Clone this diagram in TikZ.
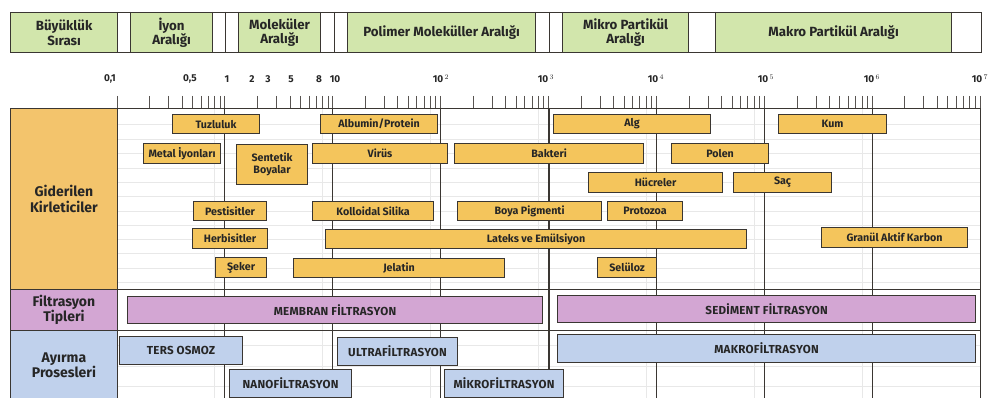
\documentclass[tikz,border=0pt]{standalone}
\usepackage{fontspec}
\setmainfont{Fira Sans}
\definecolor{hdrgreen}{HTML}{D2E6AC}
\definecolor{orng}{HTML}{F4C55C}
\definecolor{orngcat}{HTML}{F3C46C}
\definecolor{purp}{HTML}{D3A6D3}
\definecolor{blu}{HTML}{C0D1EC}
\definecolor{bdr}{HTML}{3A3632}
\definecolor{txt}{HTML}{262626}
\tikzset{
  obox/.style={draw=bdr, line width=1.1pt, fill=orng, text=txt, inner sep=0pt, font=\fontsize{10.7}{11.5}\selectfont\bfseries, align=center},
  pbox/.style={obox, fill=purp, font=\fontsize{11.6}{12.5}\selectfont\bfseries\addfontfeatures{LetterSpace=2}},
  bbox/.style={obox, fill=blu, font=\fontsize{11.6}{12.5}\selectfont\bfseries\addfontfeatures{LetterSpace=2}},
  gbox/.style={draw=bdr, line width=1.2pt, fill=hdrgreen, text=txt, inner sep=0pt, font=\fontsize{13.3}{14.5}\selectfont\bfseries, align=center},
  catbox/.style={draw=bdr, line width=0.9pt, text=txt, inner sep=0pt, font=\fontsize{14}{15.5}\selectfont\bfseries, align=center},
  sclab/.style={text=txt, inner sep=0pt, font=\fontsize{10}{11}\selectfont\bfseries},
  decline/.style={draw=bdr, line width=0.9pt},
  faint/.style={draw=black!9, line width=0.5pt},
  tick/.style={draw=bdr!85, line width=0.7pt}
}
\newcommand{\bx}[7]{\node[#2, minimum width={(#5-#3)*1pt}, minimum height={(#6-#4)*1pt}, anchor=north west] (#1) at (#3,#4) {#7};}
\begin{document}
\begin{tikzpicture}[x=1pt,y=-1pt]
\useasboundingbox (0,0) rectangle (990,398);
\fill[white] (0,0) rectangle (990,398);
% faint grid
\foreach \d in {0,...,6} \draw[faint] ({117+107.9*(\d+log10(8))},108) -- ({117+107.9*(\d+log10(8))},398);
\foreach \yy in {124,139,153,168,182,196,211,225,239,253,268,282,345,366,386} \draw[faint] (117,\yy) -- (981,\yy);
% decade lines
\foreach \d in {1,...,8} \draw[decline] ({117+107.9*\d},108) -- ({117+107.9*\d},398);
\draw[bdr, line width=1.6pt] (549,108) -- (549,398);
% row lines
\draw[decline] (117,108) -- (981,108);
\draw[decline] (117,289) -- (981,289);
\draw[decline] (117,330) -- (981,330);
% ticks
\foreach \d in {0,...,7} {
  \foreach \m in {2,...,9} \draw[tick] ({117+107.9*(\d+log10(\m))},96) -- ({117+107.9*(\d+log10(\m))},108);
}
\foreach \d in {0,...,8} \draw[tick, line width=1pt] ({117+107.9*\d},96) -- ({117+107.9*\d},108);
% header
\draw[bdr, line width=0.7pt] (10,12) rectangle (981,52);
\foreach \xx in {117,130,212,225,238,320,334,347,535,549,562,688,715,951} \draw[bdr, line width=0.7pt] (\xx,12) -- (\xx,52);
\bx{h1}{gbox}{10}{12}{117}{52}{Büyüklük\\Sırası}
\bx{h2}{gbox}{130}{12}{212}{52}{İyon\\Aralığı}
\bx{h3}{gbox}{238}{12}{320}{52}{Moleküler\\Aralığı}
\bx{h4}{gbox}{347}{12}{535}{52}{Polimer Moleküller Aralığı}
\bx{h5}{gbox}{562}{12}{688}{52}{Mikro Partikül\\Aralığı}
\bx{h6}{gbox}{715}{12}{951}{52}{Makro Partikül Aralığı}
% scale labels
\node[sclab, anchor=east] (s01) at (116,79) {0,1};
\node[sclab] (s05) at (190,79) {0,5};
\node[sclab] (s1) at (227,79) {1};
\node[sclab] (s2) at (252,79) {2};
\node[sclab] (s3) at (268,79) {3};
\node[sclab] (s5) at (291,79) {5};
\node[sclab] (s8) at (319,79) {8};
\node[sclab] (s10) at (335,79) {10};
\node[sclab] (s100) at (441,79) {10$^{\,2}$};
\node[sclab] (s1k) at (546,79) {10$^{\,3}$};
\node[sclab] (s10k) at (656,79) {10$^{\,4}$};
\node[sclab] (s100k) at (766,79) {10$^{\,5}$};
\node[sclab] (s1m) at (872,79) {10$^{\,6}$};
\node[sclab] (s10m) at (980,79) {10$^{\,7}$};
% categories
\bx{c1}{catbox, fill=orngcat}{10}{108}{117}{289}{Giderilen\\Kirleticiler}
\bx{c2}{catbox, fill=purp}{10}{289}{117}{330}{Filtrasyon\\Tipleri}
\bx{c3}{catbox, fill=blu}{10}{330}{117}{400}{Ayırma\\Prosesleri}
% contaminants
\bx{tuz}{obox}{172}{114}{259}{133}{Tuzluluk}
\bx{alb}{obox}{320}{114}{437}{133}{Albumin/Protein}
\bx{alg}{obox}{553}{114}{710}{133}{Alg}
\bx{kum}{obox}{778}{114}{886}{133}{Kum}
\bx{met}{obox}{143}{143}{220}{163}{Metal İyonları}
\bx{sen}{obox}{236}{144}{307}{184}{Sentetik\\Boyalar}
\bx{vir}{obox}{312}{143}{447}{163}{Virüs}
\bx{bak}{obox}{454}{143}{643}{163}{Bakteri}
\bx{pol}{obox}{671}{143}{768}{163}{Polen}
\bx{huc}{obox}{588}{172}{722}{192}{Hücreler}
\bx{sac}{obox}{733}{172}{831}{192}{Saç}
\bx{pes}{obox}{193}{201}{266}{220}{Pestisitler}
\bx{kol}{obox}{312}{201}{433}{220}{Kolloidal Silika}
\bx{boy}{obox}{457}{201}{601}{220}{Boya Pigmenti}
\bx{pro}{obox}{607}{201}{682}{220}{Protozoa}
\bx{her}{obox}{192}{228}{267}{248}{Herbisitler}
\bx{lat}{obox}{325}{229}{746}{248}{Lateks ve Emülsiyon}
\bx{gak}{obox}{821}{227}{967}{247}{Granül Aktif Karbon}
\bx{sek}{obox}{215}{257}{266}{277}{Şeker}
\bx{jel}{obox}{293}{258}{504}{277}{Jelatin}
\bx{sel}{obox}{597}{257}{656}{277}{Selüloz}
% filtration types
\bx{mem}{pbox}{127}{296}{542}{323}{MEMBRAN FİLTRASYON}
\bx{sed}{pbox}{557}{295}{975}{322}{SEDİMENT FİLTRASYON}
% processes
\bx{ters}{bbox}{119}{336}{242}{364}{TERS OSMOZ}
\bx{ultra}{bbox}{337}{337}{457}{365}{ULTRAFİLTRASYON}
\bx{makro}{bbox}{557}{334}{975}{362}{MAKROFİLTRASYON}
\bx{nano}{bbox}{229}{369}{351}{397}{NANOFİLTRASYON}
\bx{mikro}{bbox}{444}{369}{563}{397}{MİKROFİLTRASYON}
\end{tikzpicture}
\end{document}
